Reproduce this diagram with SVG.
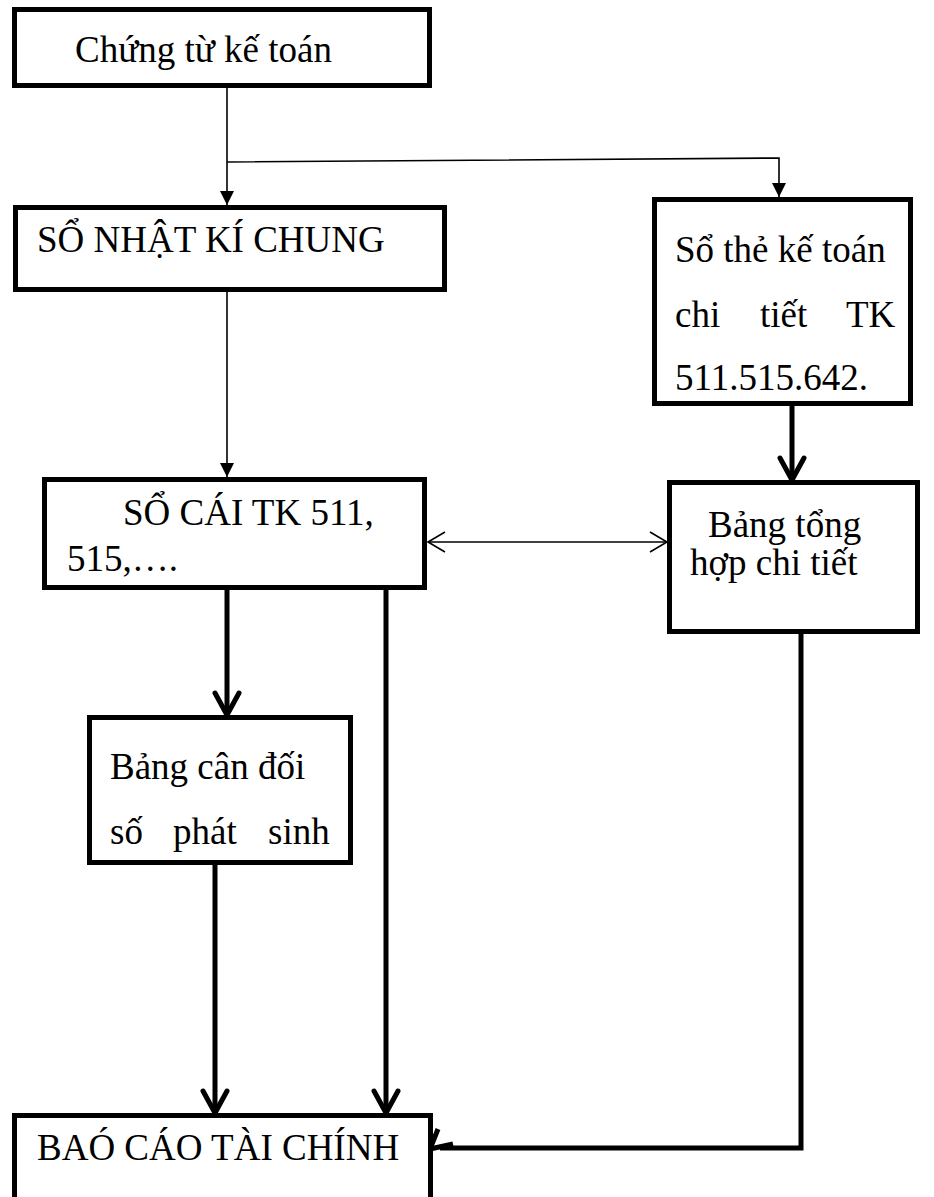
<svg xmlns="http://www.w3.org/2000/svg" width="934" height="1197" viewBox="0 0 934 1197">
<style>
.box{fill:#fff;stroke:#000;stroke-width:5}
.t{font-family:"Liberation Serif","Times New Roman",serif;font-size:37px;fill:#000}
.thin{fill:none;stroke:#000;stroke-width:1.6}
.thick{fill:none;stroke:#000;stroke-width:5}
</style>
<defs>
<marker id="tri" markerUnits="userSpaceOnUse" viewBox="0 0 14 14" markerWidth="14" markerHeight="14" refX="14" refY="7" orient="auto"><path d="M0,0 L14,7 L0,14 z" fill="#000"/></marker>
<marker id="open" markerUnits="userSpaceOnUse" viewBox="0 0 20 22" markerWidth="20" markerHeight="22" refX="18" refY="11" orient="auto-start-reverse"><path d="M1,1 L18,11 L1,21" fill="none" stroke="#000" stroke-width="1.6"/></marker>
<marker id="chev" markerUnits="userSpaceOnUse" viewBox="0 0 28 30" markerWidth="28" markerHeight="30" refX="25" refY="15" orient="auto"><path d="M3,3 L25,15 L3,27" fill="none" stroke="#000" stroke-width="5" stroke-linecap="round" stroke-linejoin="round"/></marker>
</defs>
<g id="connectors">
<line class="thin" x1="227" y1="88" x2="227" y2="205" marker-end="url(#tri)"/>
<polyline class="thin" points="227,162 779,158 779,197" marker-end="url(#tri)"/>
<line class="thin" x1="227" y1="292" x2="227" y2="477" marker-end="url(#tri)"/>
<line class="thick" x1="792" y1="406" x2="792" y2="480" marker-end="url(#chev)"/>
<line class="thin" x1="428" y1="542" x2="667" y2="542" marker-start="url(#open)" marker-end="url(#open)"/>
<line class="thick" x1="227" y1="590" x2="227" y2="715" marker-end="url(#chev)"/>
<line class="thick" x1="386" y1="590" x2="386" y2="1113" marker-end="url(#chev)"/>
<line class="thick" x1="215" y1="865" x2="215" y2="1113" marker-end="url(#chev)"/>
<polyline class="thick" points="801,634 801,1148 440,1148"/>
<path class="thick" d="M438,1129 L430,1149 L453,1144"/>
</g>
<g id="n1"><rect class="box" x="14.5" y="9.5" width="415" height="76"/><text class="t" x="75" y="62">Chứng từ kế toán</text></g>
<g id="n2"><rect class="box" x="15.5" y="207.5" width="429" height="82"/><text class="t" x="37" y="252">SỔ NHẬT KÍ CHUNG</text></g>
<g id="n3"><rect class="box" x="654.5" y="199.5" width="256" height="204"/><text class="t"><tspan x="675" y="262">Sổ thẻ kế toán</tspan><tspan x="675" y="327">chi</tspan><tspan x="760" y="327">tiết</tspan><tspan x="846" y="327">TK</tspan><tspan x="675" y="390">511.515.642.</tspan></text></g>
<g id="n4"><rect class="box" x="44.5" y="479.5" width="380" height="108"/><text class="t"><tspan x="123" y="525">SỔ CÁI TK 511,</tspan><tspan x="67" y="571">515,….</tspan></text></g>
<g id="n5"><rect class="box" x="669.5" y="482.5" width="248" height="149"/><text class="t"><tspan x="708" y="537">Bảng tổng</tspan><tspan x="690" y="575">hợp chi tiết</tspan></text></g>
<g id="n6"><rect class="box" x="89.5" y="717.5" width="261" height="145"/><text class="t"><tspan x="110" y="779">Bảng cân đối</tspan><tspan x="110" y="844">số</tspan><tspan x="173" y="844">phát</tspan><tspan x="268" y="844">sinh</tspan></text></g>
<g id="n7"><rect class="box" x="14.5" y="1115.5" width="416" height="90"/><text class="t" x="37" y="1160">BAÓ CÁO TÀI CHÍNH</text></g>
</svg>
